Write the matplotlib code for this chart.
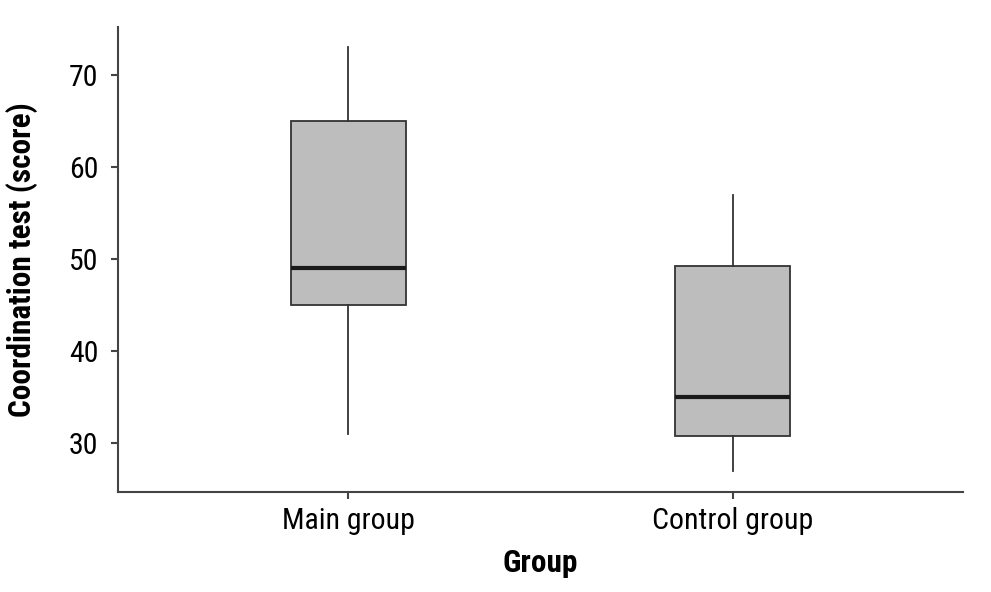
"""Box plot of coordination test scores by group."""

import matplotlib
matplotlib.use("Agg")
import matplotlib.pyplot as plt
from matplotlib import font_manager

# Box plot summaries
groups = ['Main group', 'Control group']
whisker_low = [31, 27]
q1 = [45, 30.8]
median = [49, 35]
q3 = [65, 49.2]
whisker_high = [73, 57]

# pick a narrow face if one is installed
names = {f.name for f in font_manager.fontManager.ttflist}
condensed = [f for f in font_manager.fontManager.ttflist
             if f.stretch in ('condensed', 'semi-condensed', 'extra-condensed') or 'Narrow' in f.name
             or 'Condensed' in f.name]
family = ['DejaVu Sans']
stretch = 'normal'
for cand in ['Roboto Condensed', 'Liberation Sans Narrow', 'Open Sans Condensed']:
    if cand in names:
        family = [cand, 'DejaVu Sans']
        break
else:
    if condensed:
        family = [condensed[0].name, 'DejaVu Sans']
        stretch = condensed[0].stretch
plt.rcParams['font.family'] = family
plt.rcParams['font.stretch'] = stretch

stats = []
for i, name in enumerate(groups):
    stats.append({
        'label': name,
        'whislo': whisker_low[i],
        'q1': q1[i],
        'med': median[i],
        'q3': q3[i],
        'whishi': whisker_high[i],
        'fliers': [],
    })

fig = plt.figure(figsize=(9.91, 5.92), dpi=100)
ax = fig.add_axes([0.119, 0.169, 0.853, 0.785])

ax.bxp(stats, positions=[1, 2], widths=0.3, patch_artist=True, showcaps=False,
       boxprops=dict(facecolor='#bdbdbd', edgecolor='#333333', linewidth=1.3),
       whiskerprops=dict(color='#333333', linewidth=1.3),
       medianprops=dict(color='#1a1a1a', linewidth=3))

ax.set_xlim(0.4, 2.6)
ax.set_ylim(24.7, 75.2)
ax.set_yticks([30, 40, 50, 60, 70])
ax.set_xticks([1, 2])
ax.set_xticklabels(groups)

for side in ['top', 'right']:
    ax.spines[side].set_visible(False)
for side in ['left', 'bottom']:
    ax.spines[side].set_color('#444444')
    ax.spines[side].set_linewidth(1.5)

ax.tick_params(axis='both', labelsize=21.5, colors='#444444', labelcolor='black',
               length=5, width=1.5)
ax.tick_params(axis='y', pad=9)
ax.tick_params(axis='x', pad=6)
ax.set_xlabel('Group', fontsize=22.5, fontweight='bold', labelpad=9)
ax.set_ylabel('Coordination test (score)', fontsize=22.5, fontweight='bold', labelpad=22)

fig.savefig('out.png', dpi=100)
